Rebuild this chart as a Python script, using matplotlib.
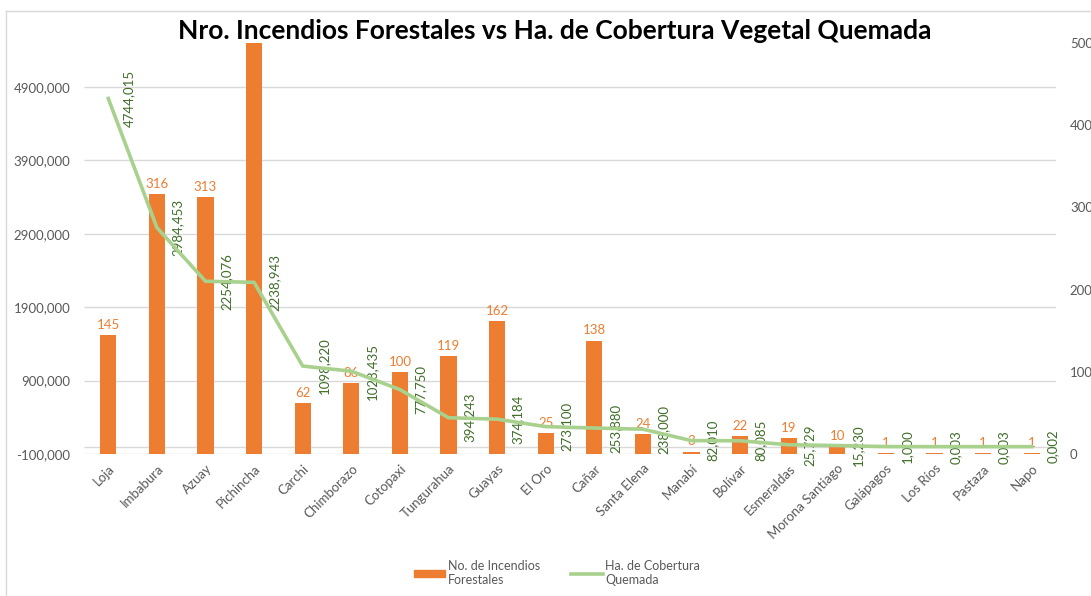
import matplotlib.pyplot as plt
from matplotlib.lines import Line2D
from matplotlib.patches import Patch

plt.rcParams['font.family'] = ['Lato', 'DejaVu Sans']

provincias = ['Loja', 'Imbabura', 'Azuay', 'Pichincha', 'Carchi', 'Chimborazo',
              'Cotopaxi', 'Tungurahua', 'Guayas', 'El Oro', 'Cañar', 'Santa Elena',
              'Manabí', 'Bolívar', 'Esmeraldas', 'Morona Santiago', 'Galápagos',
              'Los Ríos', 'Pastaza', 'Napo']
# No. de incendios (Pichincha sale del rango del eje, valor estimado)
incendios = [145, 316, 313, 560, 62, 86, 100, 119, 162, 25, 138, 24,
             3, 22, 19, 10, 1, 1, 1, 1]
# Ha. de cobertura quemada (miles)
hectareas = [4744.015, 2984.453, 2254.076, 2238.943, 1098.220, 1028.435,
             777.750, 394.243, 374.184, 273.100, 253.880, 238.000,
             82.010, 80.085, 25.729, 15.230, 1.000, 0.003, 0.003, 0.002]
ticks_izq = [-100, 900, 1900, 2900, 3900, 4900]
ticks_der = [0, 100, 200, 300, 400, 500]

naranja = '#ED7D31'
verde = '#A9D18E'
verde_osc = '#3F6E28'
gris = '#595959'

fig = plt.figure(figsize=(10.91, 5.96), dpi=100)
ax_bar = fig.add_axes([84 / 1091, 142 / 596, 972 / 1091, 411 / 596])
ax_lin = ax_bar.twinx()

x = range(len(provincias))

# barras en el eje secundario (derecha)
ax_bar.bar(x, incendios, width=0.33, color=naranja, zorder=3)
ax_bar.set_ylim(0, 500)
ax_bar.set_xlim(-0.5, len(provincias) - 0.5)
for i, v in enumerate(incendios):
    if v <= 500:
        ax_bar.annotate(str(v), (i, v), xytext=(0, 3), textcoords='offset points',
                        ha='center', va='bottom', color=naranja, fontsize=9.5)

# línea en el eje principal (izquierda)
ax_lin.plot(x, hectareas, color=verde, lw=2.6, zorder=4)
ax_lin.set_ylim(-100, 5500)
for i, v in enumerate(hectareas):
    ax_lin.annotate(f'{v:.3f}'.replace('.', ','), (i, v), xytext=(15, 0),
                    textcoords='offset points', rotation=90, ha='center',
                    va='center', color=verde_osc, fontsize=9.5)

# cuadrícula detrás de las barras
ax_bar.hlines(ticks_izq, 0, 1, transform=ax_lin.get_yaxis_transform(),
              color='#D9D9D9', lw=1, zorder=1)
ax_bar.hlines([0], 0, 1, transform=ax_lin.get_yaxis_transform(),
              color='#D9D9D9', lw=1, zorder=1)

ax_lin.yaxis.tick_left()
ax_bar.yaxis.tick_right()
ax_lin.set_yticks(ticks_izq)
ax_lin.set_yticklabels([f'{t:.3f}'.replace('.', ',') for t in ticks_izq])
ax_bar.set_yticks(ticks_der)
ax_bar.set_xticks(list(x))
ax_bar.set_xticklabels(provincias, rotation=45, ha='right', rotation_mode='anchor')

ax_lin.tick_params(axis='y', length=0, pad=10, labelsize=9.5, labelcolor=gris)
ax_bar.tick_params(axis='y', length=0, pad=10, labelsize=9.5, labelcolor=gris)
ax_bar.tick_params(axis='x', length=0, pad=6, labelsize=9.5, labelcolor=gris)
for a in (ax_bar, ax_lin):
    for s in a.spines.values():
        s.set_visible(False)

fig.text(555 / 1091, 1 - 31 / 596,
         'Nro. Incendios Forestales vs Ha. de Cobertura Vegetal Quemada',
         ha='center', va='center', fontsize=19, fontweight='bold')

handles = [Patch(color=naranja), Line2D([], [], color=verde, lw=2.6)]
fig.legend(handles, ['No. de Incendios\nForestales', 'Ha. de Cobertura\nQuemada'],
           loc='center', bbox_to_anchor=(557 / 1091, 23 / 596), ncol=2,
           frameon=False, fontsize=9, labelcolor=gris, handlelength=2.5,
           handleheight=0.4, columnspacing=2.5, handletextpad=0.2)

# borde del área del gráfico
fig.add_artist(Line2D([6 / 1091, 6 / 1091], [0, 1 - 11 / 596], color='#D9D9D9', lw=1))
fig.add_artist(Line2D([6 / 1091, 1], [1 - 11 / 596, 1 - 11 / 596], color='#D9D9D9', lw=1))

fig.savefig('out.png', dpi=100)
